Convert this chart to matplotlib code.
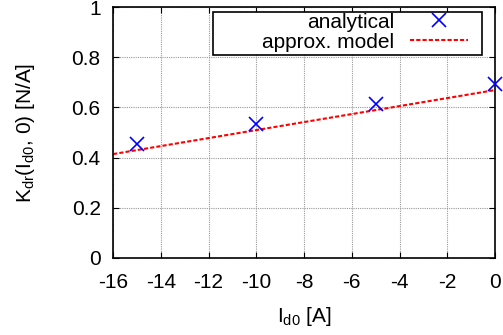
import numpy as np
import matplotlib.pyplot as plt
from matplotlib.patches import Rectangle

plt.rcParams['font.family'] = ['Liberation Sans', 'DejaVu Sans']
plt.rcParams['mathtext.default'] = 'regular'
plt.rcParams['axes.unicode_minus'] = False

# analytical points
I_d0 = [-15, -10, -5, 0]
K_analytical = [0.455, 0.534, 0.612, 0.692]

# approx. model line
model_I = [-16, 0]
model_K = [0.414, 0.669]

xticks = [-16, -14, -12, -10, -8, -6, -4, -2, 0]
yticks = [0, 0.2, 0.4, 0.6, 0.8, 1]
ylabels = ['0', '0.2', '0.4', '0.6', '0.8', '1']

fs = 15

fig = plt.figure(figsize=(5.03, 3.35), dpi=100)
ax = fig.add_axes([0.225, 0.23, 0.759, 0.749])

ax.plot(I_d0, K_analytical, 'x', color='#0000ff', markersize=10, markeredgewidth=1.2,
        label='analytical', clip_on=False, zorder=5)
ax.plot(model_I, model_K, color='#ff0000', linestyle=(0, (2, 1)), linewidth=1.5,
        label='approx. model')

ax.set_xlim(-16, 0)
ax.set_ylim(0, 1)
ax.set_xticks(xticks)
ax.set_yticks(yticks)
ax.set_yticklabels(ylabels)
ax.tick_params(direction='in', top=True, right=True, labelsize=fs, length=4)
ax.tick_params(axis='x', pad=11)
ax.tick_params(axis='y', pad=9)
ax.grid(True, color='#999999', linestyle=(0, (1, 1)), linewidth=0.8)
for s in ax.spines.values():
    s.set_linewidth(1.2)

ax.set_xlabel('I$_{d0}$ [A]', fontsize=fs, labelpad=9)
ax.set_ylabel('K$_{dr}$(I$_{d0}$, 0) [N/A]', fontsize=fs, labelpad=25)

# legend box (gnuplot style: text on the left, sample on the right)
ax.add_patch(Rectangle((0.262, 0.809), 0.704, 0.171, transform=ax.transAxes,
                       facecolor='white', edgecolor='black', linewidth=1.2, zorder=6))
leg = ax.legend(loc='upper right', bbox_to_anchor=(0.929, 0.978), markerfirst=False,
                fontsize=fs, frameon=False, handlelength=2.8, borderpad=0,
                borderaxespad=0, labelspacing=0.05, handletextpad=0.72)
leg.set_zorder(7)

fig.savefig('out.png', dpi=100)
